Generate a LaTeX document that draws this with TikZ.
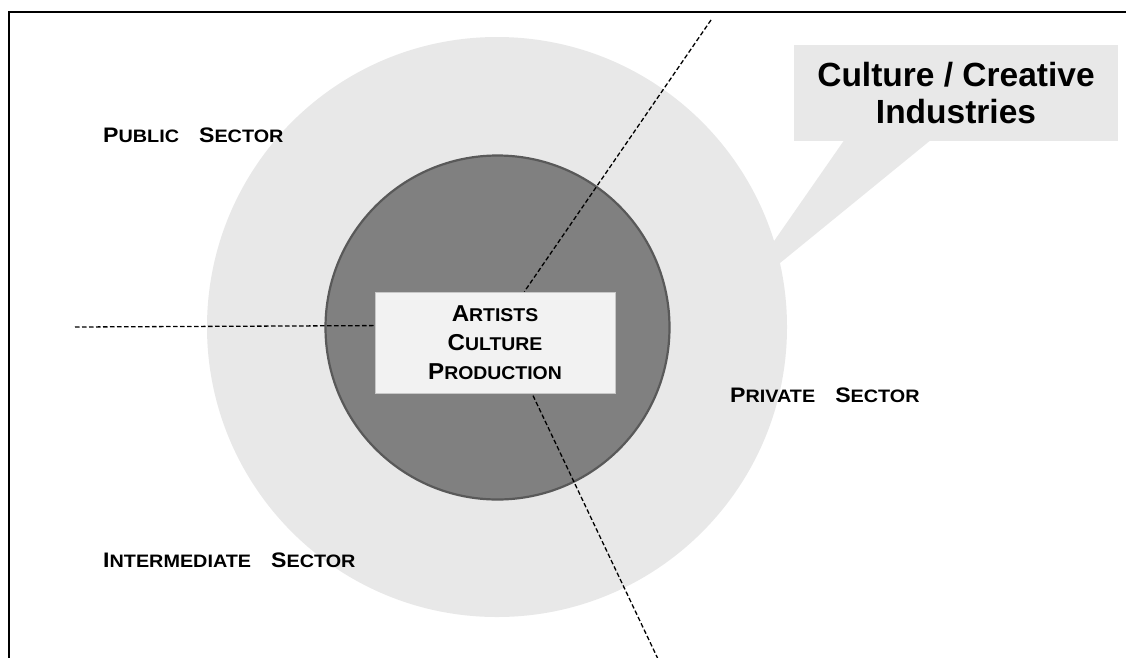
\documentclass[tikz,border=0pt]{standalone}
\usepackage{fontspec}
\setmainfont{Liberation Sans}
\newfontface\labelface[FakeStretch=1.1]{Liberation Sans Bold}
\newfontface\coreface[FakeStretch=1.05]{Liberation Sans Bold}
\usepackage{tikz}
\usetikzlibrary{positioning}
\definecolor{ringfill}{HTML}{E8E8E8}
\definecolor{corefill}{HTML}{808080}
\definecolor{coreline}{HTML}{595959}
\definecolor{boxfill}{HTML}{F2F2F2}
\definecolor{boxline}{HTML}{C8C8C8}
\newcommand{\sectorword}[2]{{\fontsize{21}{24}\selectfont#1}#2}
\newcommand{\coreword}[2]{{\fontsize{23}{29}\selectfont#1}#2}

\begin{document}
\begin{tikzpicture}[
      x=1pt, y=-1pt,
      frame/.style={line width=2.5pt, black},
      ring/.style={circle, fill=ringfill, minimum size=580pt, inner sep=0pt},
      disc/.style={circle, draw=coreline, line width=2.2pt, fill=corefill,
                   minimum size=344pt, inner sep=0pt},
      corebox/.style={draw=boxline, line width=0.8pt, fill=boxfill,
                      minimum width=240pt, minimum height=101pt, inner sep=0pt,
                      align=center, font=\coreface\fontsize{18.5}{29}\selectfont},
      bubble/.style={fill=ringfill, minimum width=324pt, minimum height=96pt,
                     inner sep=0pt, align=center,
                     font=\bfseries\fontsize{33.5}{37}\selectfont},
      sector/.style={anchor=base west, inner sep=0pt,
                     font=\labelface\fontsize{18}{24}\selectfont},
      divider/.style={line width=1.3pt, dash pattern=on 4.5pt off 2.5pt},
    ]
    \useasboundingbox (0,0) rectangle (1126,657);
    \fill[white] (0,0) rectangle (1126,657);

    \node[ring] (outer) at (497,327) {};
    \coordinate (tip) at (731,303);
    \fill[ringfill] (845,139) -- (932,139) -- (tip) -- cycle;
    \node[bubble] (callout) at (956,93) {Culture / Creative\\Industries};

    \node[disc] (inner) at (497.5,327.5) {};
    \node[corebox] (core) at (495,342.5)
      {\coreword{A}{RTISTS}\\\coreword{C}{ULTURE}\\\coreword{P}{RODUCTION}};

    \coordinate (pubend) at (75,327);
    \coordinate (topend) at (711,20);
    \coordinate (botend) at (658,659);
    \draw[divider] (pubend) -- (core.172.6);
    \draw[divider] (topend) -- (core.60);
    \draw[divider] (botend) -- (core.-54);

    \node[sector] (public) at (103,142) {\sectorword{P}{UBLIC}\hspace{20pt}\sectorword{S}{ECTOR}};
    \node[sector] (private) at (730,402) {\sectorword{P}{RIVATE}\hspace{20pt}\sectorword{S}{ECTOR}};
    \node[sector] (intermediate) at (103,567) {\sectorword{I}{NTERMEDIATE}\hspace{20pt}\sectorword{S}{ECTOR}};

    \draw[frame] (9,660) -- (9,12) -- (1130,12);
  \end{tikzpicture}
\end{document}
